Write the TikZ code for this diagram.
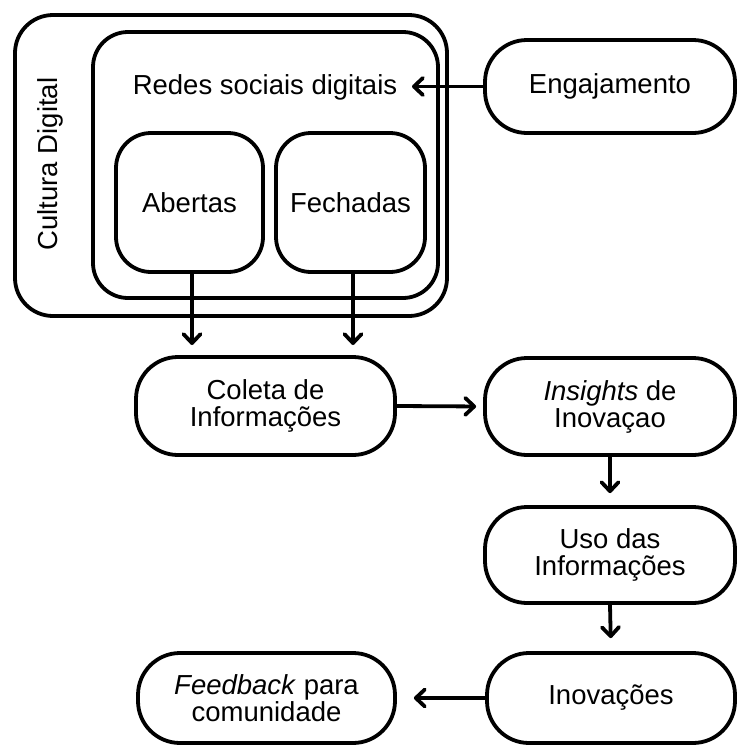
\documentclass[tikz,border=0pt]{standalone}
\usepackage{fontspec}
\setmainfont{Liberation Sans}
\usetikzlibrary{arrows.meta}
\tikzset{
  box/.style={draw=black, line width=3.8pt, rectangle, inner sep=0pt, align=center,
    font=\fontsize{27.5}{27}\selectfont},
  pill/.style={box, rounded corners=42pt},
  arr/.style={line width=3.8pt, -{Straight Barb[length=9pt,width=17pt,line cap=round,line join=round]}},
  lbl/.style={inner sep=0pt, font=\fontsize{27.5}{27}\selectfont}
}
\begin{document}
\begin{tikzpicture}[x=1pt,y=-1pt]
\useasboundingbox (0,0) rectangle (737,745);
% containers
\node[box, rounded corners=38pt, minimum width=432pt, minimum height=301pt] (cult) at (231,165.5) {};
\node[box, rounded corners=35pt, minimum width=345pt, minimum height=266pt] (redes) at (265.5,165) {};
\node[lbl, rotate=90] (cultlbl) at (50,164) {Cultura Digital};
\node[lbl] (redeslbl) at (265,87) {Redes sociais digitais};
\node[box, rounded corners=35pt, minimum width=147pt, minimum height=139pt] (ab) at (189.5,202.5) {Abertas};
\node[box, rounded corners=35pt, minimum width=149pt, minimum height=139pt] (fe) at (350.5,202.5) {Fechadas};
% flow boxes
\node[pill, minimum width=250pt, minimum height=93pt] (eng) at (610,86.5) {Engajamento};
\node[pill, minimum width=259pt, minimum height=98pt] (col) at (265.5,406) {Coleta de\\Informações};
\node[pill, minimum width=250pt, minimum height=97pt] (ins) at (610,406.5) {\textit{Insights} de\\Inovaçao};
\node[pill, minimum width=250pt, minimum height=96pt] (uso) at (610,555) {Uso das\\Informações};
\node[pill, minimum width=248pt, minimum height=90pt] (inov) at (611,698) {Inovações};
\node[pill, minimum width=257pt, minimum height=90pt] (feed) at (266.5,698) {\textit{Feedback} para\\comunidade};
% connectors
\coordinate (rtip) at (412,86.5);
\coordinate (atip) at (192,345);
\coordinate (ftip) at (353,345);
\draw[arr] (eng.west) -- (rtip);
\draw[arr] (ab.south -| atip) -- (atip);
\draw[arr] (fe.south -| ftip) -- (ftip);
\draw[arr, shorten >=7pt] (col.east) -- (ins.west);
\draw[arr, shorten >=12pt] (ins.south) -- (uso.north);
\draw[arr, shorten >=13pt] (uso.south) -- (inov.north);
\draw[arr, shorten >=17pt] (inov.west) -- (feed.east);
\end{tikzpicture}
\end{document}
